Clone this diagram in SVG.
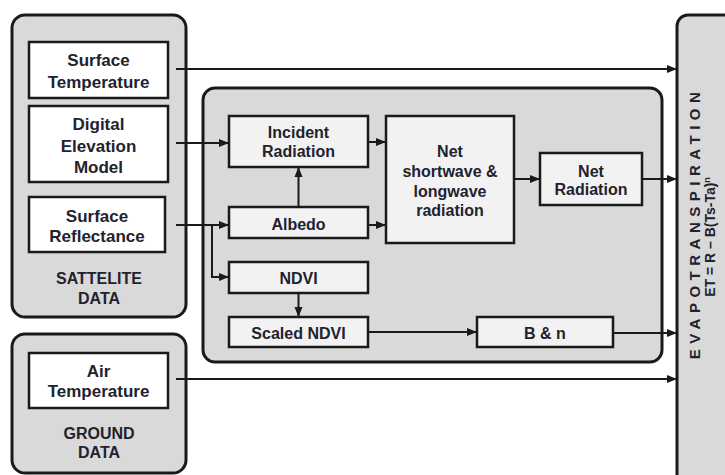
<svg xmlns="http://www.w3.org/2000/svg" width="725" height="475" viewBox="0 0 725 475">
<defs>
<style>
.grp{fill:#d9d9d9;stroke:#1a1a1a;stroke-width:3}
.in{fill:#ffffff;stroke:#1a1a1a;stroke-width:2.5}
.pr{fill:#f2f2f2;stroke:#1a1a1a;stroke-width:2.5}
text{font-family:"Liberation Sans",Arial,sans-serif;font-weight:bold;fill:#22222f;text-anchor:middle}
.t17{font-size:17px}
.t16{font-size:16px}
.c{fill:none;stroke:#1a1a1a;stroke-width:2}
</style>
<marker id="ah" markerUnits="userSpaceOnUse" markerWidth="10" markerHeight="10" viewBox="0 0 10 10" refX="10" refY="5" orient="auto">
<path d="M0,1 L10,5 L0,9 Z" fill="#1a1a1a"/>
</marker>
</defs>

<g id="evapotranspiration">
<rect class="grp" x="677" y="15" width="80" height="500" rx="11"/>
<text style="font-size:15px;letter-spacing:5.5px" transform="translate(700,223) rotate(-90)">EVAPOTRANSPIRATION</text>
<text style="font-size:14px" transform="translate(715,237) rotate(-90)">ET = R – B(Ts-Ta)<tspan style="font-size:9px" dy="-5">n</tspan></text>
</g>

<g id="satellite-data">
<rect class="grp" x="12" y="15" width="174" height="302" rx="13"/>
<text class="t16" x="99" y="284">SATTELITE</text>
<text class="t16" x="99" y="304">DATA</text>
</g>

<g id="surface-temperature">
<rect class="in" x="29" y="42" width="139" height="56"/>
<text class="t17" x="98.5" y="66">Surface</text>
<text class="t17" x="98.5" y="87.5">Temperature</text>
</g>

<g id="digital-elevation-model">
<rect class="in" x="29" y="106" width="139" height="76"/>
<text class="t17" x="98.5" y="130">Digital</text>
<text class="t17" x="98.5" y="152">Elevation</text>
<text class="t17" x="98.5" y="173">Model</text>
</g>

<g id="surface-reflectance">
<rect class="in" x="29" y="197" width="136" height="55"/>
<text class="t17" x="97" y="222">Surface</text>
<text class="t17" x="97" y="242">Reflectance</text>
</g>

<g id="ground-data">
<rect class="grp" x="12" y="334" width="174" height="139" rx="13"/>
<text class="t16" x="99" y="439">GROUND</text>
<text class="t16" x="99" y="458">DATA</text>
</g>

<g id="air-temperature">
<rect class="in" x="29" y="353" width="139" height="55"/>
<text class="t17" x="98.5" y="376.5">Air</text>
<text class="t17" x="98.5" y="397">Temperature</text>
</g>

<g id="processing">
<rect class="grp" x="203" y="88" width="459" height="274" rx="12"/>
</g>

<g id="incident-radiation">
<rect class="pr" x="229" y="116" width="139" height="51"/>
<text class="t16" x="298.5" y="138">Incident</text>
<text class="t16" x="298.5" y="157">Radiation</text>
</g>

<g id="albedo">
<rect class="pr" x="229" y="207" width="139" height="31"/>
<text class="t16" x="298.5" y="230">Albedo</text>
</g>

<g id="ndvi">
<rect class="pr" x="229" y="262" width="139" height="31"/>
<text class="t16" x="298.5" y="284">NDVI</text>
</g>

<g id="scaled-ndvi">
<rect class="pr" x="229" y="317" width="139" height="30"/>
<text class="t16" x="298.5" y="339">Scaled NDVI</text>
</g>

<g id="net-shortwave-longwave">
<rect class="pr" x="386" y="116" width="128" height="127"/>
<text class="t16" x="450" y="157">Net</text>
<text class="t16" x="450" y="177">shortwave &amp;</text>
<text class="t16" x="450" y="197">longwave</text>
<text class="t16" x="450" y="216">radiation</text>
</g>

<g id="net-radiation">
<rect class="pr" x="540" y="153" width="102" height="52"/>
<text class="t16" x="591" y="177">Net</text>
<text class="t16" x="591" y="195">Radiation</text>
</g>

<g id="b-and-n">
<rect class="pr" x="477" y="317" width="136" height="30"/>
<text class="t16" x="545" y="339">B &amp; n</text>
</g>

<g id="connectors">
<path class="c" d="M176,69 H677" marker-end="url(#ah)"/>
<path class="c" d="M176,143 H229" marker-end="url(#ah)"/>
<path class="c" d="M176,225 H229" marker-end="url(#ah)"/>
<path class="c" d="M212,225 V277 H229" marker-end="url(#ah)"/>
<path class="c" d="M298.5,207 V167" marker-end="url(#ah)"/>
<path class="c" d="M298.5,293 V317" marker-end="url(#ah)"/>
<path class="c" d="M368,142 H386" marker-end="url(#ah)"/>
<path class="c" d="M368,225 H386" marker-end="url(#ah)"/>
<path class="c" d="M514,179 H540" marker-end="url(#ah)"/>
<path class="c" d="M642,179 H677" marker-end="url(#ah)"/>
<path class="c" d="M368,332 H477" marker-end="url(#ah)"/>
<path class="c" d="M613,333 H677" marker-end="url(#ah)"/>
<path class="c" d="M176,379 H677" marker-end="url(#ah)"/>
</g>
</svg>
